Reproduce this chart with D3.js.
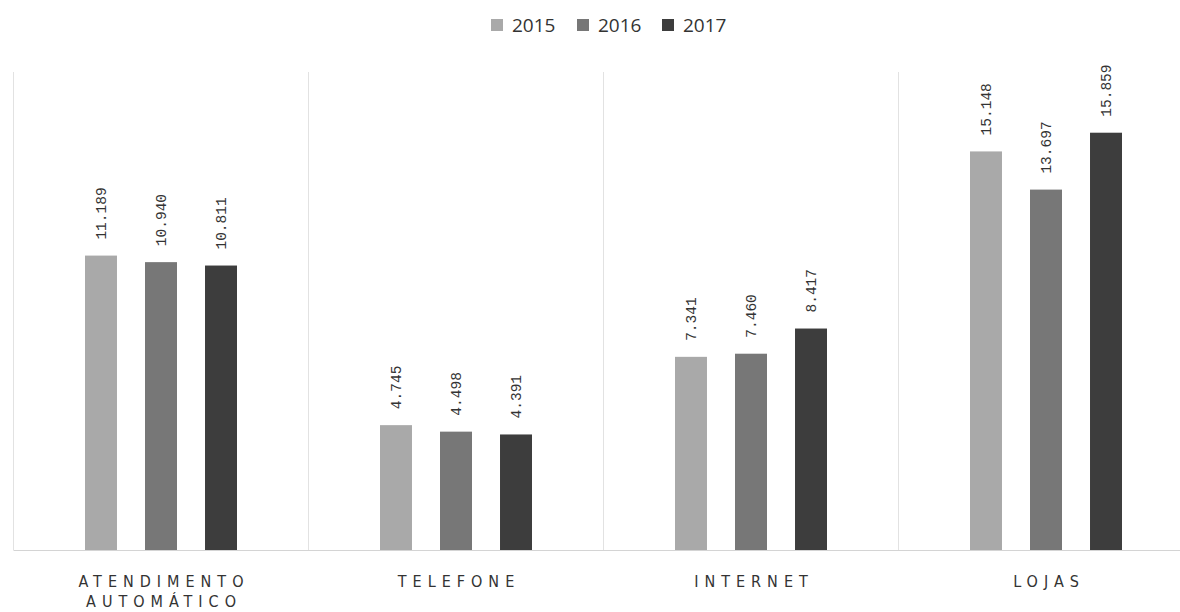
<!DOCTYPE html>
<html><head><meta charset="utf-8">
<script src="https://cdn.jsdelivr.net/npm/d3@7"></script>
<style>body{margin:0;background:#fff}svg{display:block}</style>
</head><body>
<svg id="c" width="1180" height="612"></svg>
<script>
const categories = [["ATENDIMENTO","AUTOMÁTICO"],["TELEFONE"],["INTERNET"],["LOJAS"]];
const years = ["2015","2016","2017"];
const v2015 = [11189, 4745, 7341, 15148];
const v2016 = [10940, 4498, 7460, 13697];
const v2017 = [10811, 4391, 8417, 15859];
const colors = ["#a9a9a9","#777777","#3d3d3d"];

const series = [v2015, v2016, v2017];
const svg = d3.select("#c");
const catKeys = categories.map(c => c.join(" "));
const x0 = d3.scaleBand().domain(catKeys).range([13.5, 1193.5]);
const bw = x0.bandwidth();
const x1 = d3.scaleBand().domain(years).range([bw/2 - 76, bw/2 + 76]).paddingInner(0.467);
const y = d3.scaleLinear().domain([0, 16000]).range([550, 129]);
const color = d3.scaleOrdinal().domain(years).range(colors);
const fmt = d3.formatLocale({decimal:",", thousands:".", grouping:[3], currency:["",""]}).format(",d");

// separators
svg.append("g").selectAll("line").data(catKeys).join("line")
  .attr("x1", d => x0(d)).attr("x2", d => x0(d))
  .attr("y1", 72).attr("y2", 550)
  .attr("stroke", "#e2e2e2").attr("stroke-width", 1);

// baseline
svg.append("line").attr("x1", 13.5).attr("x2", 1180).attr("y1", 550.5).attr("y2", 550.5)
  .attr("stroke", "#d4d4d4");

const groups = svg.append("g").selectAll("g").data(catKeys).join("g")
  .attr("transform", d => `translate(${x0(d)},0)`);

groups.each(function(cat, ci){
  const g = d3.select(this);
  const data = years.map((yr, si) => ({yr, v: series[si][ci]}));
  g.selectAll("rect").data(data).join("rect")
    .attr("x", d => x1(d.yr)).attr("width", x1.bandwidth())
    .attr("y", d => y(d.v)).attr("height", d => y(0) - y(d.v))
    .attr("fill", d => color(d.yr));
  g.selectAll("text.lbl").data(data).join("text").attr("class","lbl")
    .attr("transform", d => `translate(${x1(d.yr) + x1.bandwidth()/2 + 5},${y(d.v) - 16}) rotate(-90)`)
    .attr("font-family", "'Liberation Mono', 'DejaVu Sans Mono', monospace")
    .attr("font-size", 14.5).attr("fill", "#333")
    .text(d => fmt(d.v));
});

// category labels
const xAxis = svg.append("g");
categories.forEach((lines, ci) => {
  const t = xAxis.append("text")
    .attr("x", x0(catKeys[ci]) + bw/2).attr("y", 587)
    .attr("text-anchor", "middle")
    .attr("font-family", "'Liberation Sans Narrow', 'DejaVu Sans Condensed', 'Liberation Sans', sans-serif")
    .attr("font-size", 16).attr("letter-spacing", "6px").attr("fill", "#333");
  lines.forEach((ln, li) => {
    t.append("tspan").attr("x", x0(catKeys[ci]) + bw/2 + 3).attr("dy", li ? 20 : 0).text(ln);
  });
});

// legend
const legend = svg.append("g").attr("transform", "translate(491,25)");
const lx = [0, 86, 171];
years.forEach((yr, i) => {
  const lg = legend.append("g").attr("transform", `translate(${lx[i]},0)`);
  lg.append("rect").attr("x", 0).attr("y", -6).attr("width", 12).attr("height", 12).attr("fill", colors[i]);
  lg.append("text").attr("x", 21).attr("y", 7).attr("font-family", "'Open Sans', sans-serif")
    .attr("font-size", 19).attr("fill", "#333").text(yr);
});
</script>
</body></html>
